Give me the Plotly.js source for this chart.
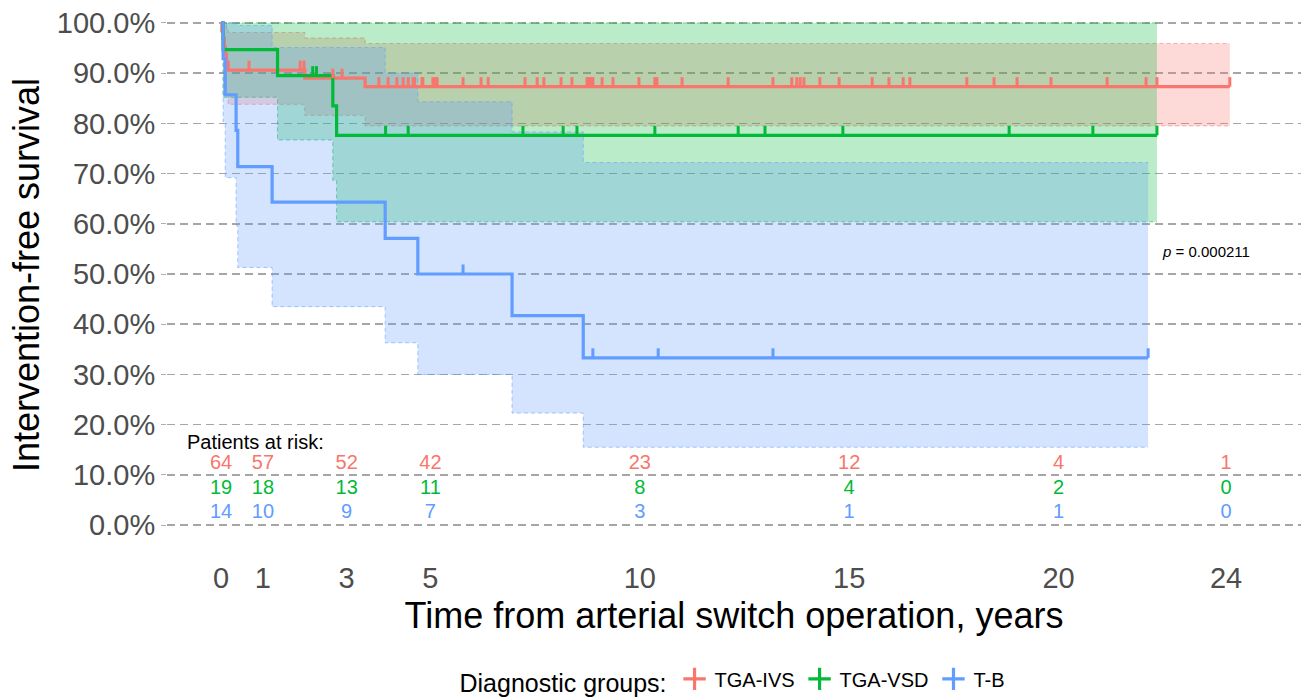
<!DOCTYPE html>
<html>
<head>
<meta charset="utf-8">
<script src="https://cdn.plot.ly/plotly-3.0.1.min.js"></script>
<style>html,body{margin:0;padding:0;background:#fff;}#chart{width:1301px;height:700px;}</style>
</head>
<body>
<div id="chart"></div>
<script>
// ---------- data ----------
const groupNames = ["TGA-IVS", "TGA-VSD", "T-B"];
const groupColors = ["#F8766D", "#00BA38", "#619CFF"];
const groupRGB = ["248,118,109", "0,186,56", "97,156,255"];

// TGA-IVS
const ivsTime  = [0, 0.02, 0.05, 0.08, 0.10, 0.13, 0.17, 2.00, 3.44];
const ivsSurv  = [1.000, 0.984, 0.969, 0.953, 0.938, 0.922, 0.906, 0.890, 0.873];
const ivsLower = [1.000, 0.954, 0.928, 0.904, 0.882, 0.859, 0.838, 0.816, 0.795];
const ivsUpper = [1.000, 1.000, 1.000, 1.000, 0.999, 0.990, 0.981, 0.970, 0.959];
const ivsEnd = 24.09;
const ivsCensor = [0.67, 1.89, 1.98, 2.67, 2.89, 3.77, 3.99, 4.20, 4.35, 4.47, 4.59, 4.62, 4.80, 4.82,
  5.06, 5.11, 5.16, 5.78, 6.21, 6.38, 7.26, 7.55, 7.71, 8.12, 8.38, 8.74, 8.77, 8.81, 8.84, 8.88,
  9.10, 9.36, 9.98, 10.36, 10.41, 11.01, 12.11, 13.18, 13.63, 13.75, 13.83, 13.92, 14.30, 14.76,
  15.55, 15.95, 16.29, 16.45, 17.81, 18.46, 19.01, 19.82, 21.16, 22.09, 22.35, 24.09];

// TGA-VSD
const vsdTime  = [0, 0.05, 1.35, 2.67, 2.76];
const vsdSurv  = [1.000, 0.947, 0.895, 0.835, 0.776];
const vsdLower = [1.000, 0.852, 0.767, 0.686, 0.604];
const vsdUpper = [1.000, 1.000, 1.000, 1.000, 1.000];
const vsdEnd = 22.35;
const vsdCensor = [2.19, 2.28, 3.93, 4.47, 7.21, 8.17, 8.50, 10.36, 12.35, 12.99, 14.85, 18.82, 20.82, 22.35];

// T-B
const tbTime  = [0, 0.05, 0.10, 0.36, 0.40, 1.22, 3.92, 4.70, 6.95, 8.65];
const tbSurv  = [1.000, 0.929, 0.857, 0.786, 0.714, 0.643, 0.571, 0.500, 0.417, 0.333];
const tbLower = [1.000, 0.803, 0.692, 0.597, 0.513, 0.435, 0.363, 0.300, 0.223, 0.155];
const tbUpper = [1.000, 1.000, 1.000, 1.000, 0.995, 0.951, 0.900, 0.843, 0.783, 0.722];
const tbEnd = 22.14;
const tbCensor = [5.78, 8.88, 10.44, 13.18, 22.14];

// numbers at risk
const riskTimes = [0, 1, 3, 5, 10, 15, 20, 24];
const ivsRisk = [64, 57, 52, 42, 23, 12, 4, 1];
const vsdRisk = [19, 18, 13, 11, 8, 4, 2, 0];
const tbRisk  = [14, 10, 9, 7, 3, 1, 1, 0];

const xTicks = [0, 1, 3, 5, 10, 15, 20, 24];
const yTicks = [0, 0.1, 0.2, 0.3, 0.4, 0.5, 0.6, 0.7, 0.8, 0.9, 1.0];
const pText = "<i>p</i> = 0.000211";

// ---------- build ----------
const groups = [
  {t: ivsTime, s: ivsSurv, lo: ivsLower, up: ivsUpper, end: ivsEnd, cens: ivsCensor, risk: ivsRisk},
  {t: vsdTime, s: vsdSurv, lo: vsdLower, up: vsdUpper, end: vsdEnd, cens: vsdCensor, risk: vsdRisk},
  {t: tbTime,  s: tbSurv,  lo: tbLower,  up: tbUpper,  end: tbEnd,  cens: tbCensor,  risk: tbRisk}
];
function ext(arr, v) { return arr.concat([v]); }
function stepAt(times, vals, x) {
  let v = vals[0];
  for (let i = 0; i < times.length; i++) { if (times[i] <= x) v = vals[i]; }
  return v;
}

const FONT = "Liberation Sans, Arial, sans-serif";
const traces = [];

// confidence bands
groups.forEach((g, k) => {
  const xs = ext(g.t, g.end);
  traces.push({
    x: xs, y: ext(g.lo, g.lo[g.lo.length - 1]), type: "scatter", mode: "lines",
    line: {shape: "hv", color: "rgba(" + groupRGB[k] + ",0.55)", width: 1, dash: "4px,3px"},
    hoverinfo: "skip", showlegend: false
  });
  traces.push({
    x: xs, y: ext(g.up, g.up[g.up.length - 1]), type: "scatter", mode: "lines",
    fill: "tonexty", fillcolor: "rgba(" + groupRGB[k] + ",0.27)",
    line: {shape: "hv", color: "rgba(" + groupRGB[k] + ",0.55)", width: 1, dash: "4px,3px"},
    hoverinfo: "skip", showlegend: false
  });
});

// survival curves
groups.forEach((g, k) => {
  traces.push({
    x: ext(g.t, g.end), y: ext(g.s, g.s[g.s.length - 1]), type: "scatter", mode: "lines",
    line: {shape: "hv", color: groupColors[k], width: 3.2},
    name: groupNames[k], showlegend: false
  });
});

// censor marks (short upward ticks)
groups.forEach((g, k) => {
  traces.push({
    x: g.cens, y: g.cens.map(c => stepAt(g.t, g.s, c)), type: "scatter", mode: "markers",
    marker: {size: 1, opacity: 0, color: groupColors[k]},
    error_y: {type: "constant", symmetric: false, value: 0.019, valueminus: 0,
              width: 0, thickness: 3, color: groupColors[k]},
    hoverinfo: "skip", showlegend: false
  });
});

// numbers at risk table
const riskRows = [0.121, 0.0716, 0.0239];
groups.forEach((g, k) => {
  traces.push({
    x: riskTimes, y: riskTimes.map(() => riskRows[k]), type: "scatter", mode: "text",
    text: g.risk.map(String), textposition: "middle center",
    textfont: {family: FONT, size: 20, color: groupColors[k]},
    hoverinfo: "skip", showlegend: false
  });
});

// legend entries
groups.forEach((g, k) => {
  traces.push({
    x: [null], y: [null], type: "scatter", mode: "markers", name: groupNames[k],
    marker: {symbol: "cross-thin", size: 17, color: groupColors[k], line: {width: 3.2, color: groupColors[k]}},
    showlegend: true
  });
});

const layout = {
  width: 1301, height: 700,
  margin: {l: 167, r: 0, t: 0, b: 150, autoexpand: false},
  paper_bgcolor: "#fff", plot_bgcolor: "#fff",
  font: {family: FONT, color: "#000"},
  xaxis: {
    range: [-1.29, 25.79], tickvals: xTicks, ticktext: xTicks.map(String),
    showgrid: false, zeroline: false, showline: false,
    ticks: "outside", ticklen: 2, tickcolor: "rgba(0,0,0,0)",
    tickfont: {family: FONT, size: 29, color: "#4D4D4D"},
    title: {text: "Time from arterial switch operation, years", font: {family: FONT, size: 36, color: "#000"}, standoff: 10}
  },
  yaxis: {
    range: [-0.0497, 1.0457], tickvals: yTicks, tickformat: ".1%",
    showgrid: true, gridcolor: "#A6A6A6", gridwidth: 1.6, griddash: "8px,5px",
    zeroline: false, showline: false,
    ticks: "outside", ticklen: 5, tickcolor: "#B0B0B0",
    tickfont: {family: FONT, size: 29, color: "#4D4D4D"},
    title: {text: "Intervention-free survival", font: {family: FONT, size: 36, color: "#000"}, standoff: 6}
  },
  legend: {
    orientation: "h", x: 0.5, xanchor: "center", y: -0.238, yanchor: "middle",
    traceorder: "normal",
    title: {text: "Diagnostic groups:", font: {family: FONT, size: 25, color: "#000"}, side: "left"},
    font: {family: FONT, size: 20, color: "#000"},
    itemwidth: 30, tracegroupgap: 0, bgcolor: "rgba(0,0,0,0)"
  },
  annotations: [
    {x: -0.86, y: 0.166, xref: "x", yref: "y", text: "Patients at risk:", showarrow: false,
     xanchor: "left", yanchor: "middle", font: {family: FONT, size: 20, color: "#000"}},
    {x: 22.43, y: 0.545, xref: "x", yref: "y", text: pText, showarrow: false,
     xanchor: "left", yanchor: "middle", font: {family: FONT, size: 15, color: "#000"}}
  ],
  showlegend: true
};

Plotly.newPlot("chart", traces, layout, {displayModeBar: false, staticPlot: true});
</script>
</body>
</html>
